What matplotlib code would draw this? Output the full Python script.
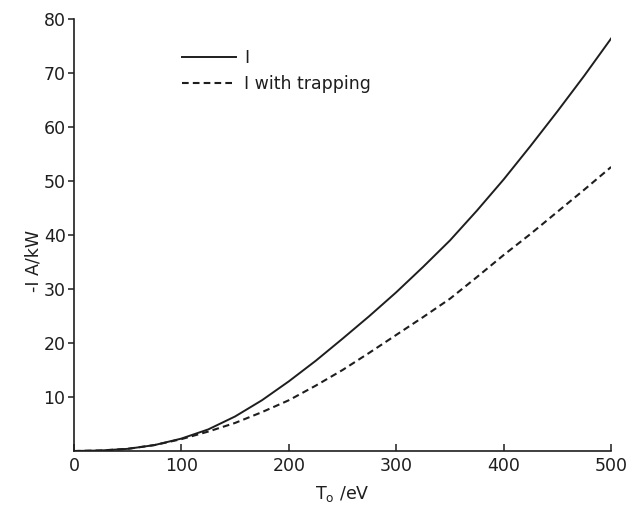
import matplotlib
matplotlib.use("Agg")
import matplotlib.pyplot as plt

# temperature T0 in eV
t0 = [0, 25, 50, 75, 100, 125, 150, 175, 200, 225, 250,
      275, 300, 325, 350, 375, 400, 425, 450, 475, 500]

# -I A / kW
current = [0, 0.1, 0.4, 1.1, 2.3, 4.0, 6.4, 9.4, 12.9, 16.7, 20.8,
           25.0, 29.4, 34.1, 39.0, 44.5, 50.3, 56.5, 62.9, 69.5, 76.4]
current_trap = [0, 0.1, 0.4, 1.1, 2.2, 3.6, 5.2, 7.2, 9.4, 12.1, 15.0,
                18.2, 21.5, 24.8, 28.2, 32.2, 36.3, 40.2, 44.3, 48.4, 52.6]

xticks = [0, 100, 200, 300, 400, 500]
yticks = [10, 20, 30, 40, 50, 60, 70, 80]

ink = "#1e1e1e"
plt.rcParams["font.family"] = "DejaVu Sans"
plt.rcParams["font.size"] = 12.5

fig = plt.figure(figsize=(6.32, 5.11), dpi=100)
ax = fig.add_axes([0.117, 0.1174, 0.850, 0.8454])

ax.plot(t0, current, color=ink, lw=1.4, label="I")
ax.plot(t0, current_trap, color=ink, lw=1.5, linestyle=(0, (3.2, 2.0)),
        label="I with trapping")

ax.set_xlim(0, 500)
ax.set_ylim(0, 80)
ax.set_xticks(xticks)
ax.set_yticks(yticks)

for side in ("top", "right"):
    ax.spines[side].set_visible(False)
for side in ("left", "bottom"):
    ax.spines[side].set_linewidth(1.2)
    ax.spines[side].set_color(ink)

ax.tick_params(axis="x", direction="in", length=5, width=1.1, colors=ink,
               labelsize=12.5, pad=4)
ax.tick_params(axis="y", direction="out", length=4, width=1.1, colors=ink,
               labelsize=12.5, pad=2)

ax.set_xlabel(r"T$_\mathrm{o}$ /eV", fontsize=12.5, color=ink, labelpad=7)
ax.set_ylabel("-I A/kW", fontsize=12.5, color=ink)
ax.yaxis.set_label_coords(-0.058, 0.44)

ax.legend(loc="upper left", bbox_to_anchor=(0.201, 0.93), frameon=False,
          borderpad=0, borderaxespad=0, handlelength=3.1, handletextpad=0.5,
          labelspacing=0.45, fontsize=12.5, labelcolor=ink)

fig.savefig("out.png", dpi=100)
